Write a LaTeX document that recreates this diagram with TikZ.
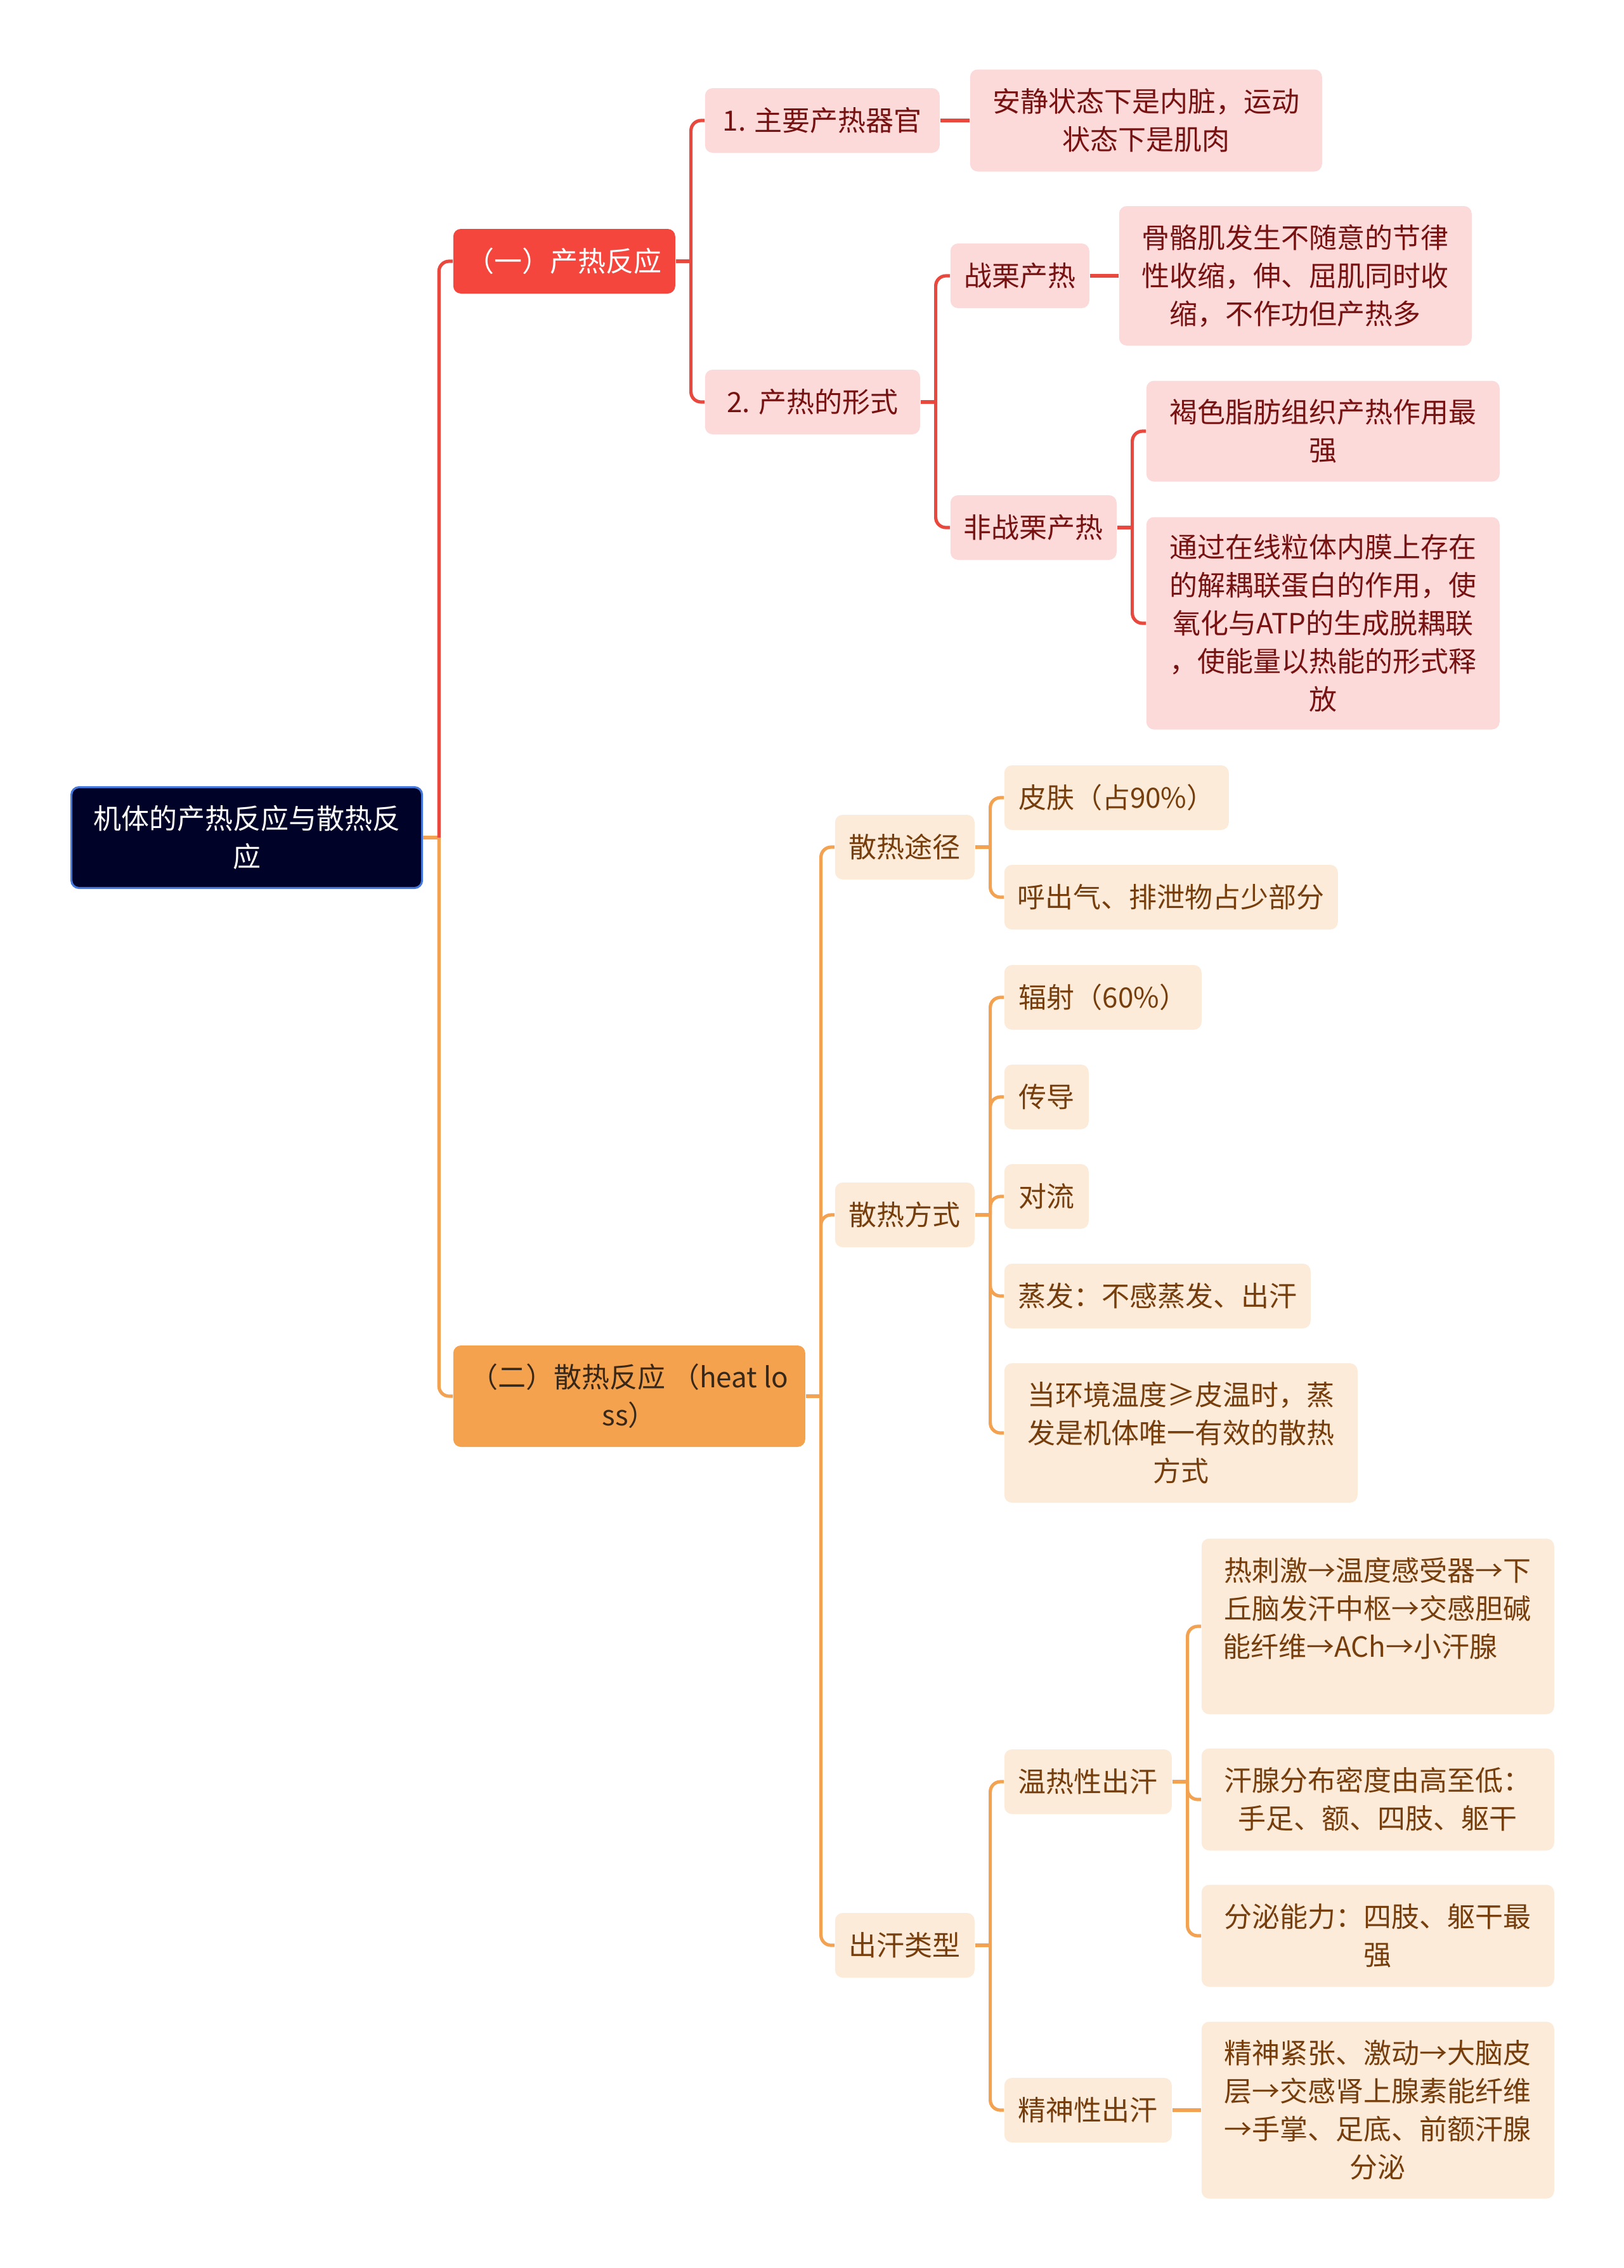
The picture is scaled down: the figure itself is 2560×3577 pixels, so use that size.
\documentclass[tikz,border=0pt]{standalone}
\usepackage{fontspec}
\setmainfont{Noto Sans CJK SC}

\begin{document}
\begin{tikzpicture}[x=0.25pt,y=-0.25pt,
    box/.style={rectangle, rounded corners=3pt, anchor=west, align=center,
      inner xsep=4pt, inner ysep=2pt, minimum height=25.5pt,
      font=\fontsize{11}{15}\selectfont},
    rootbox/.style={box, fill=rootnavy, draw=rootblue, line width=0.8pt, text=white},
    hotmain/.style={box, fill=heatred, text=white},
    hotleaf/.style={box, fill=heatpink, text=heattext},
    warmmain/.style={box, fill=lossorange, text=lossmain},
    warmleaf/.style={box, fill=losspeach, text=losstext},
    hotline/.style={heatline, line width=1.3pt, rounded corners=4pt},
    warmline/.style={lossline, line width=1.3pt, rounded corners=4pt}]

    \definecolor{rootnavy}{RGB}{0,2,40}
    \definecolor{rootblue}{RGB}{70,120,220}
    \definecolor{heatred}{RGB}{245,70,62}
    \definecolor{heatline}{RGB}{232,72,62}
    \definecolor{heatpink}{RGB}{253,218,218}
    \definecolor{heattext}{RGB}{118,18,18}
    \definecolor{lossorange}{RGB}{245,162,78}
    \definecolor{lossline}{RGB}{242,162,80}
    \definecolor{losspeach}{RGB}{253,235,218}
    \definecolor{losstext}{RGB}{118,62,12}
    \definecolor{lossmain}{RGB}{55,40,25}

    \useasboundingbox (0,0) rectangle (2560,3577);

    \node[rootbox, minimum width=138.25pt, minimum height=39.75pt] (root) at (111,1321) {机体的产热反应与散热反\\应};

    % heat production
    \node[hotmain, minimum width=87.5pt] (heat) at (714,412) {（一）产热反应};
    \node[hotleaf, minimum width=92.5pt] (organ) at (1111,190) {1. 主要产热器官};
    \node[hotleaf, minimum width=138.75pt, minimum height=40.25pt] (organtxt) at (1529,190) {安静状态下是内脏，运动\\状态下是肌肉};
    \node[hotleaf, minimum width=84.75pt] (form) at (1111,634) {2. 产热的形式};
    \node[hotleaf, minimum width=54.75pt] (shiver) at (1498,435) {战栗产热};
    \node[hotleaf, minimum width=139pt, minimum height=55pt] (shivertxt) at (1764,435) {骨骼肌发生不随意的节律\\性收缩，伸、屈肌同时收\\缩，不作功但产热多};
    \node[hotleaf, minimum width=65.5pt] (nonshiver) at (1498,832) {非战栗产热};
    \node[hotleaf, minimum width=139.25pt, minimum height=39.75pt] (brown) at (1807,680) {褐色脂肪组织产热作用最\\强};
    \node[hotleaf, minimum width=139.25pt, minimum height=83.75pt] (ucp) at (1807,983) {通过在线粒体内膜上存在\\的解耦联蛋白的作用，使\\氧化与ATP的生成脱耦联\\，使能量以热能的形式释\\放};

    % heat loss
    \node[warmmain, minimum width=138.75pt, minimum height=40pt] (loss) at (714,2202) {（二）散热反应 （heat lo\\ss）};
    \node[warmleaf, minimum width=55pt] (route) at (1316,1336) {散热途径};
    \node[warmleaf, minimum width=88.5pt] (skin) at (1583,1258) {皮肤（占90\%）};
    \node[warmleaf, minimum width=131.5pt] (breath) at (1583,1415) {呼出气、排泄物占少部分};
    \node[warmleaf, minimum width=55pt] (mode) at (1316,1916) {散热方式};
    \node[warmleaf, minimum width=77.75pt] (radiation) at (1583,1573) {辐射（60\%）};
    \node[warmleaf, minimum width=33.25pt] (conduction) at (1583,1730) {传导};
    \node[warmleaf, minimum width=33.25pt] (convection) at (1583,1887) {对流};
    \node[warmleaf, minimum width=120.75pt] (evaporation) at (1583,2044) {蒸发：不感蒸发、出汗};
    \node[warmleaf, minimum width=139.25pt, minimum height=55pt] (onlyway) at (1583,2260) {当环境温度≥皮温时，蒸\\发是机体唯一有效的散热\\方式};
    \node[warmleaf, minimum width=55pt] (sweat) at (1316,3068) {出汗类型};
    \node[warmleaf, minimum width=66pt] (thermal) at (1583,2810) {温热性出汗};
    \node[warmleaf, minimum width=139pt, minimum height=69.25pt] (reflex) at (1894,2565) {热刺激→温度感受器→下\\丘脑发汗中枢→交感胆碱\\能纤维→ACh→小汗腺\hspace{14pt}\mbox{}\\\mbox{}};
    \node[warmleaf, minimum width=139pt, minimum height=40.25pt] (density) at (1894,2838) {汗腺分布密度由高至低：\\手足、额、四肢、躯干};
    \node[warmleaf, minimum width=139pt, minimum height=40.25pt] (capacity) at (1894,3053) {分泌能力：四肢、躯干最\\强};
    \node[warmleaf, minimum width=66pt] (mental) at (1583,3328) {精神性出汗};
    \node[warmleaf, minimum width=139pt, minimum height=69.75pt] (mentaltxt) at (1894,3328) {精神紧张、激动→大脑皮\\层→交感肾上腺素能纤维\\→手掌、足底、前额汗腺\\分泌};

    % root to the two branches
    \path (root.east) ++(25,0) coordinate (rootj);
    \draw[warmline] (root.east) -- (rootj);
    \draw[hotline] (rootj) |- (heat.west);
    \draw[warmline] (rootj) |- (loss.west);

    \foreach \p/\kids in {heat/{organ,form}, form/{shiver,nonshiver}, nonshiver/{brown,ucp}} {
      \path (\p.east) ++(24,0) coordinate (\p j);
      \draw[hotline] (\p.east) -- (\p j);
      \foreach \c in \kids \draw[hotline] (\p j) |- (\c.west);
    }
    \draw[hotline] (organ.east) -- (organtxt.west);
    \draw[hotline] (shiver.east) -- (shivertxt.west);

    \foreach \p/\kids in {loss/{route,mode,sweat}, route/{skin,breath},
        mode/{radiation,conduction,convection,evaporation,onlyway},
        sweat/{thermal,mental}, thermal/{reflex,density,capacity}} {
      \path (\p.east) ++(24,0) coordinate (\p j);
      \draw[warmline] (\p.east) -- (\p j);
      \foreach \c in \kids \draw[warmline] (\p j) |- (\c.west);
    }
    \draw[warmline] (mental.east) -- (mentaltxt.west);
\end{tikzpicture}
\end{document}
